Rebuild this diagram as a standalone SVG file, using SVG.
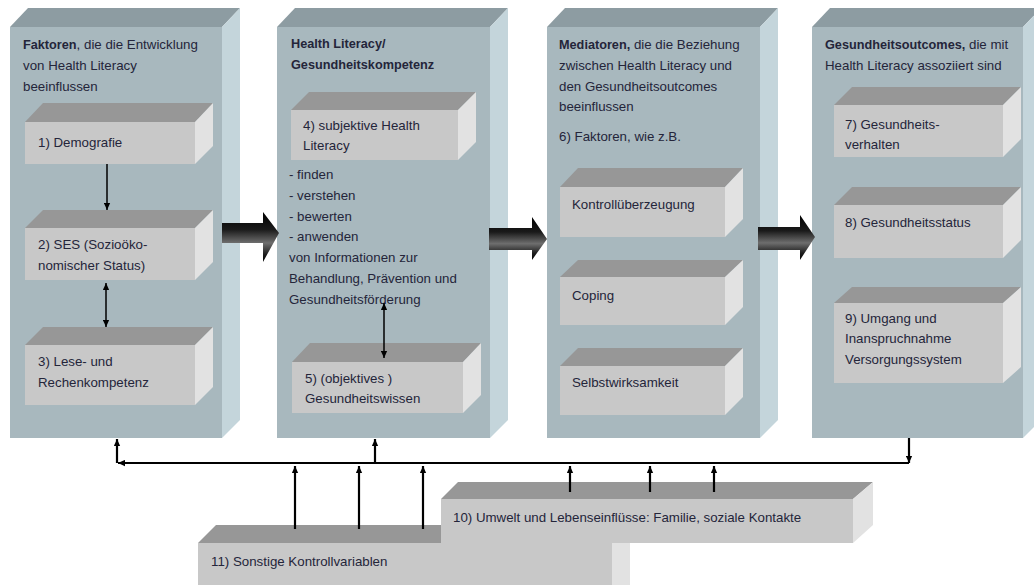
<svg xmlns="http://www.w3.org/2000/svg" width="1034" height="585" viewBox="0 0 1034 585">
<defs>
<linearGradient id="bigArrow" x1="0" y1="0" x2="0" y2="1">
<stop offset="0" stop-color="#000"/>
<stop offset="0.35" stop-color="#1a1a1a"/>
<stop offset="0.62" stop-color="#6e6e6e"/>
<stop offset="0.85" stop-color="#1c1c1c"/>
<stop offset="1" stop-color="#000"/>
</linearGradient>
<marker id="ah" viewBox="0 0 10 10" refX="10" refY="5" markerWidth="7" markerHeight="7" markerUnits="userSpaceOnUse" orient="auto-start-reverse">
<path d="M0,0.5 L10,5 L0,9.5 z" fill="#000"/>
</marker>
</defs>
<style>
.cf{fill:#a8b8be}
.ct{fill:#8d9ca2}
.cs{fill:#c4d5db}
.bf{fill:#c8c8c8}
.bt{fill:#979797}
.bs{fill:#e2e2e2}
text{font-family:"Liberation Sans",Arial,sans-serif;font-size:13.3px;fill:#24253a}
.b{font-weight:bold;font-size:12.7px}
.ln{stroke:#000;stroke-width:1.5;fill:none}
.lnb{stroke:#000;stroke-width:2.2;fill:none}
.big{fill:url(#bigArrow)}
</style>
<rect width="1034" height="585" fill="#fff"/>

<!-- Column 1 -->
<g id="col1">
<polygon class="ct" points="10,27 28,8 240,8 222,27"/>
<polygon class="cs" points="222,27 240,8 240,420 222,438"/>
<rect class="cf" x="10" y="27" width="212" height="411"/>
<text x="23" y="49"><tspan class="b">Faktoren</tspan>, die die Entwicklung</text>
<text x="23" y="70">von Health Literacy</text>
<text x="23" y="91">beeinflussen</text>
</g>
<g id="n1">
<polygon class="bt" points="25,122 43,103 213,103 195,122"/>
<polygon class="bs" points="195,122 213,103 213,146 195,164"/>
<rect class="bf" x="25" y="122" width="170" height="42"/>
<text x="38" y="147">1) Demografie</text>
</g>
<g id="n2">
<polygon class="bt" points="25,228 43,210 213,210 195,228"/>
<polygon class="bs" points="195,228 213,210 213,262 195,280"/>
<rect class="bf" x="25" y="228" width="170" height="52"/>
<text x="38" y="249">2) SES (Sozioöko-</text>
<text x="38" y="270">nomischer Status)</text>
</g>
<g id="n3">
<polygon class="bt" points="25,345 43,327 213,327 195,345"/>
<polygon class="bs" points="195,345 213,327 213,387 195,405"/>
<rect class="bf" x="25" y="345" width="170" height="60"/>
<text x="38" y="366">3) Lese- und</text>
<text x="38" y="387">Rechenkompetenz</text>
</g>

<!-- Column 2 -->
<g id="col2">
<polygon class="ct" points="277,27 295,8 508,8 490,27"/>
<polygon class="cs" points="490,27 508,8 508,420 490,438"/>
<rect class="cf" x="277" y="27" width="213" height="411"/>
<text class="b" x="291" y="48">Health Literacy/</text>
<text class="b" x="291" y="69">Gesundheitskompetenz</text>
<text x="289" y="179">- finden</text>
<text x="289" y="200">- verstehen</text>
<text x="289" y="221">- bewerten</text>
<text x="289" y="241">- anwenden</text>
<text x="289" y="262">von Informationen zur</text>
<text x="289" y="283">Behandlung, Prävention und</text>
<text x="289" y="304">Gesundheitsförderung</text>
</g>
<g id="n4">
<polygon class="bt" points="291,110 309,92 476,92 458,110"/>
<polygon class="bs" points="458,110 476,92 476,142 458,160"/>
<rect class="bf" x="291" y="110" width="167" height="50"/>
<text x="303" y="130">4) subjektive Health</text>
<text x="303" y="150">Literacy</text>
</g>
<g id="n5">
<polygon class="bt" points="292,362 310,343 481,343 463,362"/>
<polygon class="bs" points="463,362 481,343 481,395 463,413"/>
<rect class="bf" x="292" y="362" width="171" height="51"/>
<text x="305" y="383">5) (objektives )</text>
<text x="305" y="403">Gesundheitswissen</text>
</g>

<!-- Column 3 -->
<g id="col3">
<polygon class="ct" points="547,27 565,8 778,8 760,27"/>
<polygon class="cs" points="760,27 778,8 778,420 760,438"/>
<rect class="cf" x="547" y="27" width="213" height="411"/>
<text x="559" y="49"><tspan class="b">Mediatoren,</tspan> die die Beziehung</text>
<text x="559" y="70">zwischen Health Literacy und</text>
<text x="559" y="91">den Gesundheitsoutcomes</text>
<text x="559" y="111">beeinflussen</text>
<text x="559" y="141">6) Faktoren, wie z.B.</text>
</g>
<g id="n6a">
<polygon class="bt" points="560,187 578,168 743,168 725,187"/>
<polygon class="bs" points="725,187 743,168 743,219 725,237"/>
<rect class="bf" x="560" y="187" width="165" height="50"/>
<text x="572" y="209">Kontrollüberzeugung</text>
</g>
<g id="n6b">
<polygon class="bt" points="560,277 578,260 743,260 725,277"/>
<polygon class="bs" points="725,277 743,260 743,307 725,325"/>
<rect class="bf" x="560" y="277" width="165" height="48"/>
<text x="572" y="300">Coping</text>
</g>
<g id="n6c">
<polygon class="bt" points="560,366 578,348 743,348 725,366"/>
<polygon class="bs" points="725,366 743,348 743,397 725,415"/>
<rect class="bf" x="560" y="366" width="165" height="49"/>
<text x="572" y="387">Selbstwirksamkeit</text>
</g>

<!-- Column 4 -->
<g id="col4">
<polygon class="ct" points="812,27 830,8 1041,8 1023,27"/>
<polygon class="cs" points="1023,27 1041,8 1041,420 1023,438"/>
<rect class="cf" x="812" y="27" width="211" height="411"/>
<text x="825" y="49"><tspan class="b">Gesundheitsoutcomes,</tspan> die mit</text>
<text x="825" y="70">Health Literacy assoziiert sind</text>
</g>
<g id="n7">
<polygon class="bt" points="834,105 852,87 1021,87 1003,105"/>
<polygon class="bs" points="1003,105 1021,87 1021,139 1003,157"/>
<rect class="bf" x="834" y="105" width="169" height="52"/>
<text x="845" y="129">7) Gesundheits-</text>
<text x="845" y="149">verhalten</text>
</g>
<g id="n8">
<polygon class="bt" points="834,205 852,187 1021,187 1003,205"/>
<polygon class="bs" points="1003,205 1021,187 1021,240 1003,258"/>
<rect class="bf" x="834" y="205" width="169" height="53"/>
<text x="845" y="227">8) Gesundheitsstatus</text>
</g>
<g id="n9">
<polygon class="bt" points="834,303 852,287 1021,287 1003,303"/>
<polygon class="bs" points="1003,303 1021,287 1021,367 1003,383"/>
<rect class="bf" x="834" y="303" width="169" height="80"/>
<text x="845" y="323">9) Umgang und</text>
<text x="845" y="343">Inanspruchnahme</text>
<text x="845" y="364">Versorgungssystem</text>
</g>

<!-- Bottom boxes -->
<g id="n11">
<polygon class="bt" points="198,543 216,525 630,525 612,543"/>
<polygon class="bs" points="612,543 630,525 630,600 612,600"/>
<rect class="bf" x="198" y="543" width="414" height="60"/>
<text x="211" y="566">11) Sonstige Kontrollvariablen</text>
</g>
<g id="n10">
<polygon class="bt" points="441,499 458,482 873,482 853,499"/>
<polygon class="bs" points="853,499 873,482 873,525 853,543"/>
<rect class="bf" x="441" y="499" width="412" height="44"/>
<text x="453" y="522">10) Umwelt und Lebenseinflüsse: Familie, soziale Kontakte</text>
</g>

<!-- Connectors -->
<g id="connectors">
<polygon class="big" points="222,223 263,223 263,212 279,233 263,262 263,243 222,243"/>
<polygon class="big" points="489,228 532,228 532,217 547,239 532,260 532,250 489,250"/>
<polygon class="big" points="758,227 800,227 800,215 815,237 800,260 800,250 758,250"/>
<path class="ln" d="M107,164 L107,210" marker-end="url(#ah)"/>
<path class="ln" d="M106,283 L106,327" marker-start="url(#ah)" marker-end="url(#ah)"/>
<path class="ln" d="M384,303 L384,358" marker-start="url(#ah)" marker-end="url(#ah)"/>
<path class="lnb" d="M909,438 L909,463" marker-end="url(#ah)"/>
<path class="lnb" d="M909,463 L118,463" marker-end="url(#ah)"/>
<path class="lnb" d="M117,463 L117,439" marker-end="url(#ah)"/>
<path class="lnb" d="M375,463 L375,439" marker-end="url(#ah)"/>
<path class="lnb" d="M295,529 L295,466" marker-end="url(#ah)"/>
<path class="lnb" d="M359,529 L359,466" marker-end="url(#ah)"/>
<path class="lnb" d="M423,529 L423,466" marker-end="url(#ah)"/>
<path class="lnb" d="M570,492 L570,466" marker-end="url(#ah)"/>
<path class="lnb" d="M650,492 L650,466" marker-end="url(#ah)"/>
<path class="lnb" d="M714,492 L714,466" marker-end="url(#ah)"/>
</g>
</svg>
